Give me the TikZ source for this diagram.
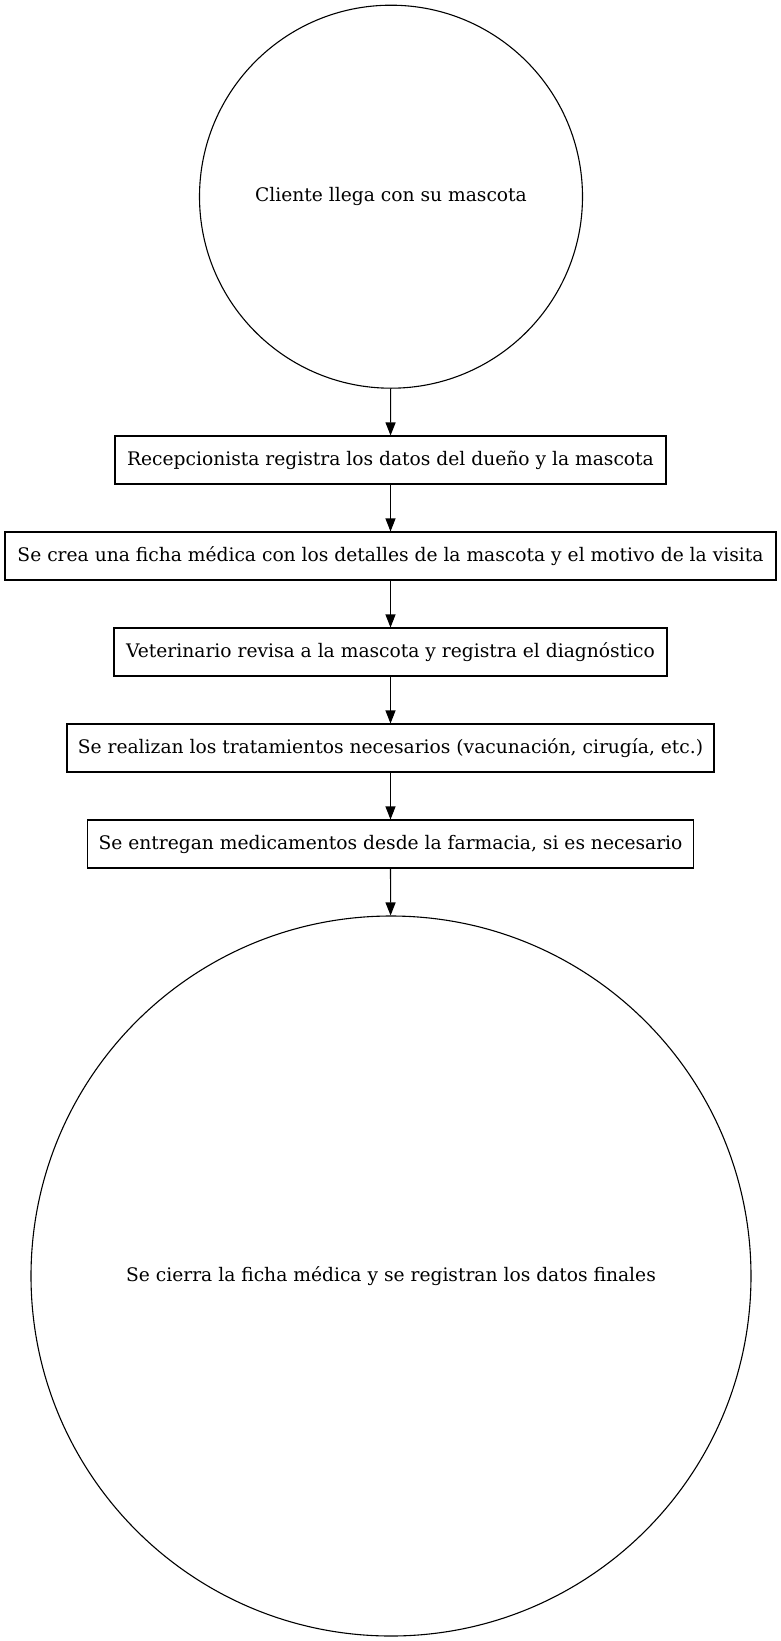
\documentclass[tikz,border=0pt]{standalone}
\usepackage{fontspec}
\setmainfont{DejaVu Serif}
\usetikzlibrary{arrows.meta}
\begin{document}
\begin{tikzpicture}[x=1pt,y=1pt,
  every node/.style={font=\fontsize{18.67}{22}\selectfont},
  stepbox/.style={draw,line width=1.1pt,rectangle,minimum height=48pt,inner sep=0pt,anchor=center},
  roundnode/.style={draw,line width=1.1pt,circle,inner sep=0pt,anchor=center},
  flow/.style={line width=1.1pt,-{Triangle[length=13pt,width=10pt]}}]
\useasboundingbox (0,0) rectangle (781,-1641);
\node[roundnode,minimum size=383pt] (c1) at (391,-196.7) {Cliente llega con su mascota};
\node[stepbox,minimum width=551pt] (b1) at (390.5,-460) {Recepcionista registra los datos del dueño y la mascota};
\node[stepbox,minimum width=771pt] (b2) at (390.5,-556) {Se crea una ficha médica con los detalles de la mascota y el motivo de la visita};
\node[stepbox,minimum width=553pt] (b3) at (390.5,-652) {Veterinario revisa a la mascota y registra el diagnóstico};
\node[stepbox,minimum width=647pt] (b4) at (390.5,-748) {Se realizan los tratamientos necesarios (vacunación, cirugía, etc.)};
\node[stepbox,minimum width=606pt] (b5) at (390.5,-844) {Se entregan medicamentos desde la farmacia, si es necesario};
\node[roundnode,minimum size=720pt] (c2) at (391,-1276) {Se cierra la ficha médica y se registran los datos finales};
\draw[flow] (c1) -- (b1);
\draw[flow] (b1) -- (b2);
\draw[flow] (b2) -- (b3);
\draw[flow] (b3) -- (b4);
\draw[flow] (b4) -- (b5);
\draw[flow] (b5) -- (c2);
\end{tikzpicture}
\end{document}
